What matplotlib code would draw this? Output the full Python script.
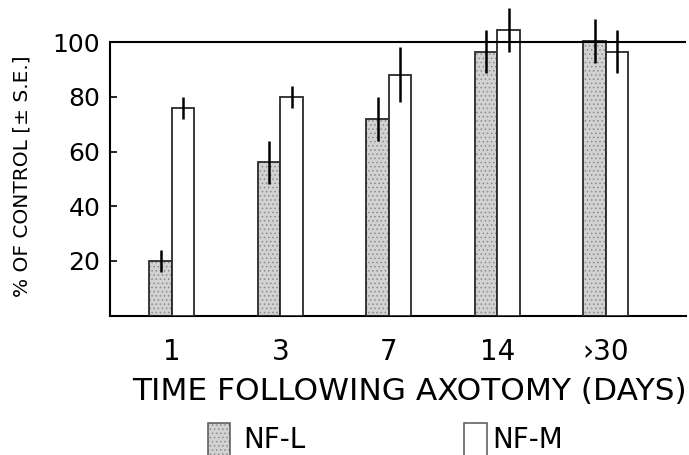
import matplotlib
matplotlib.use("Agg")
import matplotlib.pyplot as plt
from matplotlib.patches import Rectangle
import numpy as np

# ---- data ----
days = ["1", "3", "7", "14", "\u203a30"]
series_names = ["NF-L", "NF-M"]
nfl_mean = [20, 56, 72, 96.5, 100.5]
nfl_se = [4, 8, 8, 8, 8]
nfm_mean = [76, 80, 88, 104.5, 96.5]
nfm_se = [4, 4, 10, 8, 8]
yticks = [20, 40, 60, 80, 100]
xlabel = "TIME FOLLOWING AXOTOMY (DAYS)"
ylabel = "% OF CONTROL [\u00b1 S.E.]"

W, H = 689, 455
plt.rcParams['font.family'] = ['DejaVu Sans']
plt.rcParams['hatch.linewidth'] = 0.6
fig = plt.figure(figsize=(W / 100, H / 100), dpi=100)

def px(x0, y0, x1, y1):
    return [x0 / W, 1 - y1 / H, (x1 - x0) / W, (y1 - y0) / H]

# axes spans from top of figure down to the zero line
ax = fig.add_axes(px(110, 0, 686, 315.75))
ymax = 315.75 / 2.7375

x = np.arange(len(days))
bw = 0.207
gray = '#d2d2d2'
dots = '#8c8c8c'
edge = '#2a2a2a'

# NF-L: stippled fill + outline
ax.bar(x - bw / 2, nfl_mean, bw, color=gray, edgecolor=dots, hatch='....', linewidth=0, zorder=2)
ax.bar(x - bw / 2, nfl_mean, bw, fill=False, edgecolor=edge, linewidth=1.3, zorder=3)
# NF-M: open bars
ax.bar(x + bw / 2, nfm_mean, bw, color='white', edgecolor=edge, linewidth=1.3, zorder=3)

ax.errorbar(x - bw / 2, nfl_mean, yerr=nfl_se, fmt='none', ecolor='black', elinewidth=1.8, capsize=0, zorder=4)
ax.errorbar(x + bw / 2, nfm_mean, yerr=nfm_se, fmt='none', ecolor='black', elinewidth=1.8, capsize=0, zorder=4)

# reference line at 100% (control)
ax.axhline(100, color='black', linewidth=1.5, zorder=3.5)

ax.set_xlim(-0.570, 4.739)
ax.set_ylim(0, ymax)
ax.set_yticks(yticks)
ax.set_yticklabels([str(v) for v in yticks], fontsize=18)
ax.tick_params(axis='y', direction='in', length=5, width=1.2, pad=7)
ax.set_xticks(x)
ax.set_xticklabels(days, fontsize=20)
ax.tick_params(axis='x', length=0, pad=16)

for s in ['left', 'bottom']:
    ax.spines[s].set_linewidth(1.5)
    ax.spines[s].set_color('black')
ax.spines['left'].set_bounds(0, 100)
ax.spines['right'].set_visible(False)
ax.spines['top'].set_visible(False)
ax.patch.set_alpha(0)

ax.set_xlabel(xlabel, fontsize=22.5)
ax.xaxis.set_label_coords((409 - 110) / 576, (315.75 - 377) / 315.75)
fig.text(22 / W, 1 - 176 / H, ylabel, rotation=90, fontsize=14.5, ha='center', va='center')

# legend (manual)
leg_boxes = [(208, 230), (464, 487)]
leg_text_x = [243, 492]
for (x0, x1), tx, name, style in zip(leg_boxes, leg_text_x, series_names, ['nfl', 'nfm']):
    if style == 'nfl':
        r = Rectangle((x0 / W, 0), (x1 - x0) / W, (H - 423) / H, transform=fig.transFigure,
                      facecolor=gray, edgecolor=dots, hatch='....', linewidth=0)
        fig.add_artist(r)
    r2 = Rectangle((x0 / W, -0.01), (x1 - x0) / W, (H - 423) / H + 0.01, transform=fig.transFigure,
                   facecolor='none' if style == 'nfl' else 'white', edgecolor='#555555', linewidth=1.1)
    fig.add_artist(r2)
    fig.text(tx / W, 0.5 / H, name, fontsize=20, ha='left', va='bottom')

fig.savefig('out.png', dpi=100)
